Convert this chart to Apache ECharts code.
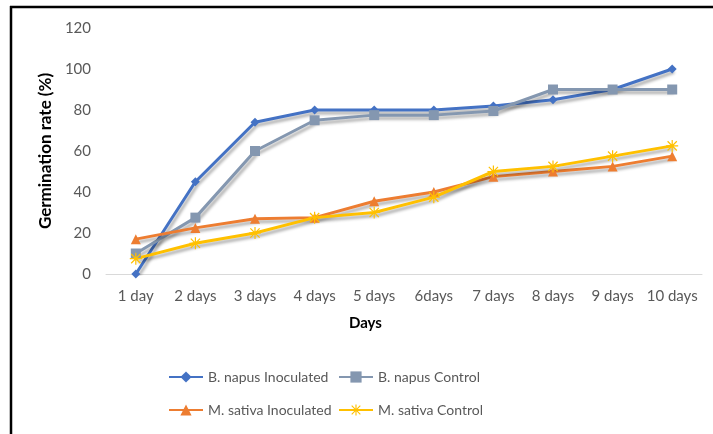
<!DOCTYPE html>
<html>
<head>
<meta charset="utf-8">
<script src="https://cdn.jsdelivr.net/npm/echarts@6/dist/echarts.min.js"></script>
<style>
  html, body { margin: 0; padding: 0; background: #ffffff; }
  #chart { width: 713px; height: 434px; }
</style>
</head>
<body>
<div id="chart"></div>
<script>
// Germination rate over ten days for inoculated and control seeds
var days = ['1 day', '2 days', '3 days', '4 days', '5 days', '6days', '7 days', '8 days', '9 days', '10 days'];
var napusInoculated = [0, 45, 74, 80, 80, 80, 82, 85, 90, 100];
var napusControl = [10, 27.5, 60, 75, 77.5, 77.5, 79.5, 90, 90, 90];
var sativaInoculated = [17, 22.5, 27, 27.5, 35.5, 40, 47.5, 50, 52.5, 57.5];
var sativaControl = [7.5, 15, 20, 27.5, 30, 37.5, 50, 52.5, 57.5, 62.5];
var yTicks = [0, 20, 40, 60, 80, 100, 120];

var FONT = 'Lato, "Open Sans", sans-serif';
var TEXT = '#595959';

// asterisk-shaped marker: horizontal, vertical and two diagonal bars
var asterisk = 'path://M0 45H100V55H0Z M45 0H55V100H45Z M8 15L15 8L92 85L85 92Z M85 8L92 15L15 92L8 85Z';

function lineSeries(name, data, color, symbol, size) {
  return {
    name: name,
    type: 'line',
    data: data,
    symbol: symbol,
    symbolSize: size,
    showSymbol: true,
    lineStyle: {
      color: color,
      width: 3,
      shadowColor: 'rgba(0,0,0,0.32)',
      shadowBlur: 3,
      shadowOffsetX: 2,
      shadowOffsetY: 3
    },
    itemStyle: { color: color },
    emphasis: { disabled: true },
    z: 3
  };
}

var chart = echarts.init(document.getElementById('chart'), null, { renderer: 'canvas' });

chart.setOption({
  backgroundColor: '#ffffff',
  animation: false,
  textStyle: { fontFamily: FONT },
  grid: { left: 106, right: 11, top: 28, bottom: 160 },
  xAxis: {
    type: 'category',
    data: days,
    boundaryGap: true,
    axisLine: { lineStyle: { color: '#d9d9d9', width: 1 } },
    axisTick: { show: false },
    axisLabel: { color: TEXT, fontSize: 15, fontFamily: FONT, margin: 15, interval: 0 }
  },
  yAxis: {
    type: 'value',
    min: yTicks[0],
    max: yTicks[yTicks.length - 1],
    interval: yTicks[1] - yTicks[0],
    name: 'Germination rate (%)',
    nameLocation: 'middle',
    nameGap: 51,
    nameTextStyle: { color: '#000000', fontWeight: 'bold', fontSize: 17, fontFamily: FONT },
    axisLine: { show: false },
    axisTick: { show: false },
    splitLine: { show: false },
    axisLabel: { color: TEXT, fontSize: 15, fontFamily: FONT, margin: 15 }
  },
  legend: [
    {
      orient: 'vertical',
      left: 168,
      top: 370,
      padding: 0,
      itemWidth: 34,
      itemHeight: 14,
      itemGap: 19,
      data: ['B. napus Inoculated', 'M. sativa Inoculated'],
      textStyle: { color: TEXT, fontSize: 14, fontFamily: FONT }
    },
    {
      orient: 'vertical',
      left: 338,
      top: 370,
      padding: 0,
      itemWidth: 34,
      itemHeight: 14,
      itemGap: 19,
      data: ['B. napus Control', 'M. sativa Control'],
      textStyle: { color: TEXT, fontSize: 14, fontFamily: FONT }
    }
  ],
  graphic: [
    {
      type: 'text',
      left: 349,
      top: 316,
      style: { text: 'Days', fill: '#000000', font: 'bold 15px ' + FONT }
    },
    {
      type: 'line',
      shape: { x1: 10, y1: 7, x2: 713, y2: 7 },
      style: { stroke: '#000000', lineWidth: 2.5 }
    },
    {
      type: 'line',
      shape: { x1: 11, y1: 6, x2: 11, y2: 434 },
      style: { stroke: '#000000', lineWidth: 2.5 }
    }
  ],
  series: [
    lineSeries('B. napus Inoculated', napusInoculated, '#4472c4', 'diamond', 9),
    lineSeries('B. napus Control', napusControl, '#8497b0', 'rect', 10),
    lineSeries('M. sativa Inoculated', sativaInoculated, '#ed7d31', 'triangle', 10),
    lineSeries('M. sativa Control', sativaControl, '#ffc000', asterisk, 12)
  ]
});
</script>
</body>
</html>
